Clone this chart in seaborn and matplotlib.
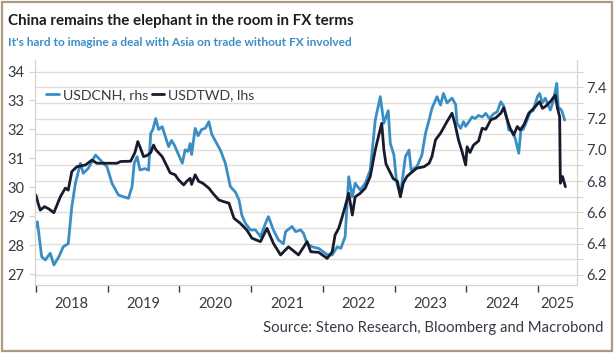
import matplotlib
matplotlib.use("Agg")
import matplotlib.pyplot as plt
import seaborn as sns
import pandas as pd
from matplotlib.patches import Rectangle
from matplotlib.ticker import MultipleLocator, FixedLocator, NullFormatter, FixedFormatter

# ---------------- data (fractional year, value) ----------------
twd_t = [2018.00, 2018.03, 2018.06, 2018.12, 2018.18, 2018.25, 2018.34, 2018.41, 2018.45, 2018.50,
         2018.57, 2018.69, 2018.78, 2018.85, 2018.99, 2019.13, 2019.18, 2019.32, 2019.38, 2019.42,
         2019.45, 2019.50, 2019.55, 2019.60, 2019.64, 2019.67, 2019.76, 2019.83, 2019.87, 2019.94,
         2019.99, 2020.06, 2020.10, 2020.15, 2020.17, 2020.22, 2020.27, 2020.32, 2020.41, 2020.48,
         2020.55, 2020.62, 2020.69, 2020.76, 2020.85, 2020.94, 2021.01,
         2021.13, 2021.22, 2021.31, 2021.41, 2021.52, 2021.66, 2021.78, 2021.83, 2021.94, 2022.06,
         2022.13, 2022.17, 2022.22, 2022.27, 2022.31, 2022.36, 2022.41, 2022.45, 2022.52, 2022.59,
         2022.66, 2022.73, 2022.78, 2022.82, 2022.85, 2022.88, 2022.93, 2022.98, 2023.04, 2023.08,
         2023.12, 2023.17, 2023.22, 2023.31, 2023.41, 2023.48, 2023.52, 2023.57, 2023.64, 2023.73,
         2023.80, 2023.84, 2023.89, 2023.94, 2023.99, 2024.01, 2024.05, 2024.10, 2024.17, 2024.22,
         2024.27, 2024.34, 2024.41, 2024.48, 2024.52, 2024.57, 2024.61, 2024.66, 2024.71, 2024.75,
         2024.80, 2024.87, 2024.94, 2025.02, 2025.06, 2025.10, 2025.17, 2025.24,
         2025.27, 2025.30, 2025.31, 2025.34, 2025.38]
twd_v = [29.73, 29.45, 29.21, 29.33, 29.25, 29.12, 29.67, 29.97, 29.90, 30.54,
         30.71, 30.77, 30.94, 30.83, 30.83, 30.83, 30.89, 30.90, 31.20, 31.58,
         31.40, 31.06, 31.10, 31.20, 31.46, 31.30, 31.06, 30.71, 30.50, 30.43,
         30.25, 30.08, 30.20, 30.31, 30.10, 30.43, 30.20, 30.15, 29.97, 29.75,
         29.56, 29.50, 29.45, 28.93, 28.75, 28.52, 28.24,
         28.12, 28.58, 28.06, 27.66, 27.94, 27.66, 28.12, 27.77, 27.75, 27.54,
         27.77, 28.35, 28.58, 28.98, 29.33, 29.79, 29.04, 29.67, 29.79, 29.97,
         30.37, 31.29, 31.81, 32.21, 31.29, 30.80, 30.55, 30.30, 30.20, 29.67,
         30.14, 30.37, 30.48, 30.66, 30.71, 30.83, 31.06, 31.64, 31.87, 32.27,
         32.56, 32.20, 31.64, 31.23, 30.77, 31.40, 31.20, 31.46, 31.60, 32.04,
         32.00, 32.33, 32.40, 32.56, 32.75, 32.33, 32.04, 31.81, 32.10, 31.98,
         32.15, 32.56, 32.73, 32.96, 32.73, 32.79, 32.96, 33.19,
         32.73, 32.44, 30.14, 30.37, 30.02]

cnh_t = [2018.00, 2018.02, 2018.08, 2018.13, 2018.20, 2018.25, 2018.32, 2018.38, 2018.45, 2018.50,
         2018.55, 2018.62, 2018.66, 2018.73, 2018.83, 2018.92, 2018.99, 2019.06, 2019.15, 2019.22,
         2019.29, 2019.34, 2019.37, 2019.41, 2019.45, 2019.52, 2019.57, 2019.60, 2019.63, 2019.67,
         2019.71, 2019.76, 2019.80, 2019.85, 2019.89, 2019.93, 2019.99, 2020.04, 2020.08, 2020.12,
         2020.15, 2020.17, 2020.22, 2020.26, 2020.31, 2020.36, 2020.41, 2020.45, 2020.52, 2020.57,
         2020.64, 2020.71, 2020.78, 2020.83, 2020.87, 2020.92, 2020.99,
         2021.06, 2021.13, 2021.20, 2021.24, 2021.31, 2021.38, 2021.45, 2021.48, 2021.57, 2021.62,
         2021.69, 2021.73, 2021.78, 2021.85, 2021.94, 2022.00, 2022.06, 2022.13, 2022.20, 2022.25,
         2022.31, 2022.36, 2022.41, 2022.45, 2022.52, 2022.59, 2022.66, 2022.73, 2022.80, 2022.85,
         2022.91, 2022.94, 2022.99, 2023.03, 2023.08, 2023.15, 2023.20, 2023.23, 2023.31, 2023.38,
         2023.43, 2023.48, 2023.52, 2023.59, 2023.64, 2023.68, 2023.73, 2023.80, 2023.85, 2023.87,
         2023.92, 2023.96, 2023.99, 2024.08, 2024.12, 2024.17, 2024.22, 2024.27, 2024.32, 2024.38,
         2024.43, 2024.48, 2024.52, 2024.57, 2024.59, 2024.63, 2024.68, 2024.73, 2024.76, 2024.79,
         2024.82, 2024.89, 2024.93, 2024.99, 2025.02, 2025.06,
         2025.10, 2025.17, 2025.21, 2025.26, 2025.28, 2025.33, 2025.37]
cnh_v = [6.510, 6.540, 6.317, 6.296, 6.339, 6.264, 6.317, 6.380, 6.400, 6.636,
         6.786, 6.914, 6.850, 6.882, 6.967, 6.924, 6.892, 6.786, 6.711, 6.700,
         6.690, 6.765, 6.914, 6.956, 6.871, 6.880, 6.870, 7.105, 7.130, 7.200,
         7.130, 7.148, 7.090, 7.020, 7.060, 7.030, 6.967, 6.914, 7.000, 6.990,
         7.040, 6.970, 7.137, 7.090, 7.130, 7.137, 7.180, 7.100, 7.040, 7.000,
         6.914, 6.765, 6.730, 6.680, 6.583, 6.530, 6.488,
         6.488, 6.445, 6.530, 6.573, 6.488, 6.424, 6.400, 6.477, 6.510, 6.477,
         6.488, 6.466, 6.400, 6.380, 6.370, 6.350, 6.330, 6.328, 6.380, 6.370,
         6.445, 6.828, 6.700, 6.786, 6.743, 6.786, 6.870, 7.190, 7.340, 7.170,
         7.250, 7.040, 6.967, 6.786, 6.710, 6.956, 6.998, 6.870, 6.892, 6.967,
         7.105, 7.190, 7.265, 7.340, 7.286, 7.360, 7.300, 7.330, 7.290, 7.170,
         7.137, 7.180, 7.150, 7.210, 7.200, 7.220, 7.210, 7.233, 7.200, 7.230,
         7.243, 7.307, 7.280, 7.190, 7.127, 7.120, 7.075, 6.978, 7.127, 7.130,
         7.160, 7.243, 7.250, 7.340, 7.360, 7.300,
         7.330, 7.254, 7.310, 7.425, 7.275, 7.250, 7.190]

years = [2018, 2019, 2020, 2021, 2022, 2023, 2024, 2025]
year_labels = ["2018", "2019", "2020", "2021", "2022", "2023", "2024", "2025"]
left_ticks = [27, 28, 29, 30, 31, 32, 33, 34]
right_ticks = [6.2, 6.4, 6.6, 6.8, 7.0, 7.2, 7.4]

df_twd = pd.DataFrame({"t": twd_t, "v": twd_v})
df_cnh = pd.DataFrame({"t": cnh_t, "v": cnh_v})

# ---------------- style ----------------
sns.set_style("white")
FONT = ["Lato", "DejaVu Sans"]
plt.rcParams["font.family"] = FONT

BLUE = "#3a8ec6"
NAVY = "#161b2d"
GRID = "#e2ddd8"
SPINE = "#d6d2cc"
TXT = "#363a45"

fig = plt.figure(figsize=(6.15, 3.55), dpi=100)
W, H = 615, 355
x0, x1, y0, y1 = 34.5, 576.5, 60, 285
ax_r = fig.add_axes([x0 / W, 1 - y1 / H, (x1 - x0) / W, (y1 - y0) / H])
ax_l = ax_r.twinx()

xmin, xmax = 2017.98, 2025.535
ax_r.set_xlim(xmin, xmax)
ax_r.set_ylim(6.136, 7.574)
ax_l.set_ylim(26.62, 34.40)

sns.lineplot(data=df_cnh, x="t", y="v", ax=ax_r, color=BLUE, lw=2.0, label="USDCNH, rhs", legend=False)
sns.lineplot(data=df_twd, x="t", y="v", ax=ax_l, color=NAVY, lw=2.0, label="USDTWD, lhs", legend=False)

for a in (ax_r, ax_l):
    a.set_xlabel("")
    a.set_ylabel("")
    a.set_facecolor("none")
    for s in a.spines.values():
        s.set_visible(False)

# gridlines on right scale (every 0.1)
ax_r.yaxis.set_major_locator(FixedLocator(right_ticks))
ax_r.yaxis.set_minor_locator(MultipleLocator(0.1))
ax_r.grid(True, which="both", axis="y", color=GRID, lw=1.0)
ax_r.grid(False, axis="x")
ax_r.set_axisbelow(True)
ax_r.yaxis.tick_right()
ax_r.yaxis.set_major_formatter(FixedFormatter([f"{v:.1f}" for v in right_ticks]))
ax_r.tick_params(axis="y", which="both", right=True, left=False, length=4, width=0.8,
                 color=SPINE, labelcolor=TXT, labelsize=10.5, pad=3)
ax_r.tick_params(axis="y", which="minor", labelright=False)

ax_l.yaxis.tick_left()
ax_l.yaxis.set_major_locator(FixedLocator(left_ticks))
ax_l.tick_params(axis="y", which="both", left=True, right=False, labelleft=True, labelright=False,
                 length=4, width=0.8, color=SPINE, labelcolor=TXT, labelsize=10.5, pad=3)

# x axis: ticks at year start, labels centred in visible portion of year
ax_r.xaxis.set_major_locator(FixedLocator(years))
ax_r.xaxis.set_major_formatter(NullFormatter())
mids = [(y + min(y + 1, xmax)) / 2 for y in years]
ax_r.xaxis.set_minor_locator(FixedLocator(mids))
ax_r.xaxis.set_minor_formatter(FixedFormatter(year_labels))
ax_r.tick_params(axis="x", which="major", bottom=True, length=5, width=1.0, color="#3a3a3a", direction="out")
ax_r.tick_params(axis="x", which="minor", bottom=True, length=0, labelcolor=TXT, labelsize=10.5, pad=9)
ax_l.tick_params(axis="x", which="both", bottom=False, labelbottom=False)

for side in ("left", "right", "bottom"):
    ax_l.spines[side].set_visible(True)
    ax_l.spines[side].set_color(SPINE)
    ax_l.spines[side].set_linewidth(0.9)

# legend
h1 = ax_r.get_lines()[0]
h2 = ax_l.get_lines()[0]
leg = ax_l.legend([h1, h2], ["USDCNH, rhs", "USDTWD, lhs"], loc="center left",
                  bbox_to_anchor=(0.022, 0.844), ncol=2, frameon=False, fontsize=10.2,
                  handlelength=0.9, handletextpad=0.25, columnspacing=0.25,
                  borderpad=0, borderaxespad=0)
for t in leg.get_texts():
    t.set_color(TXT)

# titles & source
fig.text(8 / W, 1 - 21 / H, "China remains the elephant in the room in FX terms",
         fontsize=10.9, fontweight="bold", color="#1c1c24", va="center", ha="left")
fig.text(8 / W, 1 - 43 / H, "It's hard to imagine a deal with Asia on trade without FX involved",
         fontsize=8.6, fontweight="bold", color=BLUE, va="center", ha="left")
fig.text(603 / W, 1 - 328 / H, "Source: Steno Research, Bloomberg and Macrobond",
         fontsize=10.7, color=TXT, va="center", ha="right")

# border
fig.patches.append(Rectangle((1.5 / W, 4 / H), 610 / W, 349.5 / H, transform=fig.transFigure,
                             fill=False, edgecolor="#a99a80", lw=1.6))

fig.savefig("out.png", dpi=100)
